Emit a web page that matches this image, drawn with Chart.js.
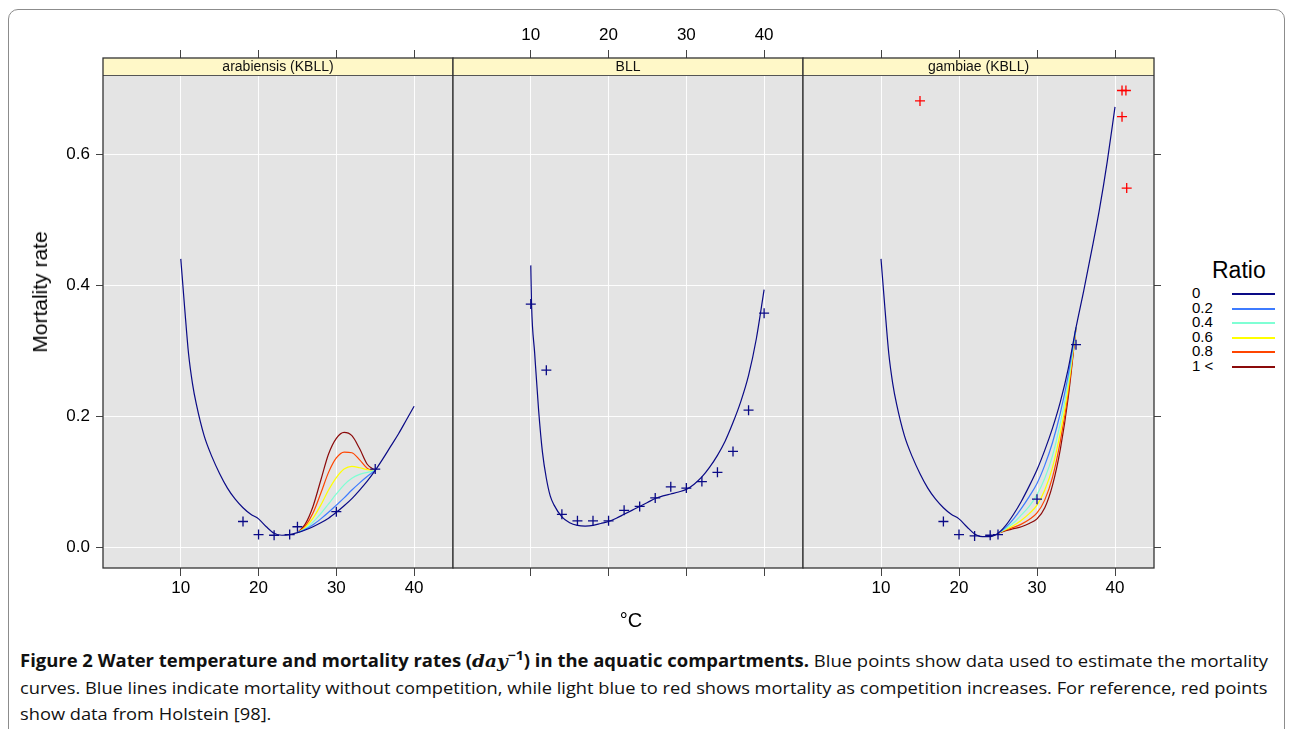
<!DOCTYPE html>
<html>
<head>
<meta charset="utf-8">
<script src="https://cdn.jsdelivr.net/npm/chart.js@4.4.1/dist/chart.umd.min.js"></script>
<style>
  body { margin: 0; width: 1293px; height: 729px; overflow: hidden; background: #fff; position: relative;
         font-family: "Liberation Sans", Arial, sans-serif; }
  .frame { position: absolute; left: 8px; top: 9px; width: 1277px; height: 780px; box-sizing: border-box;
           border: 1.5px solid #8c8c8c; border-radius: 10px; }
  canvas { position: absolute; top: 0; }
  #ylab { position: absolute; left: 40px; top: 292px; transform: translate(-50%, -50%) rotate(-90deg);
          font-size: 21px; white-space: nowrap; }
  #xlab { position: absolute; left: 631px; top: 620px; transform: translate(-50%, -50%); font-size: 20px; }
  #legend { position: absolute; left: 0; top: 0; }
  #legend .title { position: absolute; left: 1212px; top: 256px; font-size: 23px; line-height: 28px; }
  #legend .lab { position: absolute; left: 1192px; font-size: 15px; line-height: 16px; white-space: nowrap; }
  #legend .ln { position: absolute; left: 1232px; width: 43px; height: 1.5px; }
  .capline { position: absolute; left: 20px; font-family: "Open Sans", sans-serif; font-size: 17px; line-height: 20px;
             white-space: nowrap; transform-origin: 0 50%; color: #111; }
  .capline b { font-weight: 700; }
  .capline .m { font-family: "DejaVu Serif", serif; font-style: italic; font-weight: 700; }
  .capline sup { font-size: 13px; line-height: 0; }
</style>
</head>
<body>
<div class="frame"></div>
<canvas id="p1" width="461" height="620" style="left:0px"></canvas>
<canvas id="p2" width="366" height="620" style="left:445px"></canvas>
<canvas id="p3" width="379" height="620" style="left:795px"></canvas>
<div id="ylab">Mortality rate</div>
<div id="xlab">°C</div>
<div id="legend"></div>
<div class="capline" id="c1" style="top:651px"><b>Figure 2 Water temperature and mortality rates (<span class="m">day</span><sup>−1</sup>) in the aquatic compartments.</b> Blue points show data used to estimate the mortality</div>
<div class="capline" id="c2" style="top:678px">curves. Blue lines indicate mortality without competition, while light blue to red shows mortality as competition increases. For reference, red points</div>
<div class="capline" id="c3" style="top:704px">show data from Holstein [98].</div>
<script>
// achsen
const xTicks = [10, 20, 30, 40];
const yTicks = [0, 0.2, 0.4, 0.6];
const panelNames = ["arabiensis (KBLL)", "BLL", "gambiae (KBLL)"];
const ratioLabels = ["0", "0.2", "0.4", "0.6", "0.8", "1 <"];
const ratioColors = ["#0A0A86", "#3D7BFF", "#7FFFD4", "#FFFF00", "#FF4500", "#8B0A0A"];

// Kurven ohne Konkurrenz
const tempArab = [10, 10.5, 11, 11.5, 12, 13, 14, 15, 16, 17, 18, 19, 20, 21, 22, 23, 24, 25, 26, 27, 28, 29, 30, 31, 32, 33, 34, 35, 36, 37, 38, 39, 40];
const mortArab = [0.44, 0.365, 0.295, 0.25, 0.218, 0.17, 0.138, 0.112, 0.09, 0.073, 0.06, 0.05, 0.043, 0.031, 0.021, 0.018, 0.019, 0.022, 0.026, 0.031, 0.037, 0.044, 0.053, 0.063, 0.074, 0.087, 0.101, 0.117, 0.135, 0.154, 0.173, 0.194, 0.215];
const tempBLL = [10, 10.1, 10.5, 11, 11.5, 12, 12.5, 13, 14, 15, 16, 17, 18, 19, 20, 21, 22, 23, 24, 25, 26, 27, 28, 29, 30, 31, 32, 33, 34, 35, 36, 37, 38, 39, 40];
const mortBLL = [0.43, 0.37, 0.296, 0.21, 0.145, 0.105, 0.078, 0.064, 0.046, 0.037, 0.033, 0.032, 0.033, 0.036, 0.039, 0.044, 0.05, 0.056, 0.062, 0.068, 0.074, 0.078, 0.081, 0.084, 0.088, 0.096, 0.107, 0.122, 0.14, 0.162, 0.19, 0.222, 0.262, 0.318, 0.393];
const tempGamb = [10, 10.5, 11, 11.5, 12, 13, 14, 15, 16, 17, 18, 19, 20, 21, 22, 23, 24, 25, 26, 27, 28, 29, 30, 31, 32, 33, 34, 35, 36, 37, 38, 39, 40];
const mortGamb = [0.44, 0.365, 0.295, 0.25, 0.218, 0.17, 0.138, 0.112, 0.09, 0.073, 0.06, 0.05, 0.043, 0.031, 0.02, 0.016, 0.016, 0.021, 0.033, 0.05, 0.07, 0.093, 0.118, 0.148, 0.182, 0.222, 0.272, 0.335, 0.392, 0.452, 0.515, 0.588, 0.672];

// Kurven mit Konkurrenz (Ratio 0.2 .. 1<)
const tempComp = [25, 26, 27, 28, 29, 30, 31, 32, 33, 34, 35];
const arab02 = [0.022, 0.027, 0.034, 0.043, 0.053, 0.064, 0.075, 0.087, 0.098, 0.108, 0.117];
const arab04 = [0.022, 0.028, 0.038, 0.051, 0.066, 0.081, 0.095, 0.105, 0.111, 0.114, 0.117];
const arab06 = [0.022, 0.03, 0.044, 0.064, 0.087, 0.106, 0.119, 0.123, 0.121, 0.118, 0.117];
const arab08 = [0.022, 0.032, 0.052, 0.082, 0.114, 0.136, 0.145, 0.144, 0.133, 0.12, 0.117];
const arab10 = [0.022, 0.035, 0.062, 0.102, 0.142, 0.166, 0.175, 0.17, 0.15, 0.126, 0.117];
const gamb02 = [0.021, 0.03, 0.043, 0.059, 0.077, 0.097, 0.125, 0.16, 0.205, 0.262, 0.335];
const gamb04 = [0.021, 0.028, 0.037, 0.049, 0.062, 0.08, 0.105, 0.14, 0.19, 0.252, 0.335];
const gamb06 = [0.021, 0.027, 0.033, 0.041, 0.051, 0.064, 0.087, 0.122, 0.175, 0.243, 0.335];
const gamb08 = [0.021, 0.026, 0.03, 0.035, 0.042, 0.052, 0.072, 0.107, 0.162, 0.235, 0.335];
const gamb10 = [0.021, 0.025, 0.028, 0.031, 0.036, 0.043, 0.06, 0.095, 0.15, 0.228, 0.335];

// Messpunkte
const arabObsT = [18, 20, 22, 24, 25, 30, 35];
const arabObsM = [0.039, 0.019, 0.018, 0.019, 0.031, 0.054, 0.119];
const bllObsT = [10, 12, 14, 16, 18, 20, 22, 24, 26, 28, 30, 32, 34, 36, 38, 40];
const bllObsM = [0.371, 0.27, 0.05, 0.04, 0.04, 0.04, 0.056, 0.062, 0.075, 0.092, 0.09, 0.1, 0.114, 0.146, 0.209, 0.357];
const gambObsT = [18, 20, 22, 24, 25, 30, 35];
const gambObsM = [0.039, 0.019, 0.017, 0.018, 0.019, 0.073, 0.309];
const holsteinT = [15, 40.9, 41.4, 40.9, 41.5];
const holsteinM = [0.681, 0.697, 0.697, 0.657, 0.548];

Chart.defaults.font.family = "'Liberation Sans', Arial, sans-serif";
Chart.defaults.color = "#000";

const pts = (xs, ys) => xs.map((x, i) => ({ x: x, y: ys[i] }));

const curve = (xs, ys, color) => ({
  data: pts(xs, ys),
  showLine: true,
  borderColor: color,
  borderWidth: 1.2,
  pointRadius: 0,
  fill: false,
  cubicInterpolationMode: "monotone",
});

const crosses = (xs, ys, color) => ({
  data: pts(xs, ys),
  showLine: false,
  pointStyle: "cross",
  pointRadius: 5,
  borderColor: color,
  borderWidth: 1.3,
});

// Hintergrund, Streifen und Rahmen eines Panels
const panelDecor = {
  id: "panelDecor",
  beforeDraw(chart) {
    const { ctx, chartArea: a } = chart;
    ctx.save();
    ctx.fillStyle = "#E4E4E4";
    ctx.fillRect(a.left, a.top, a.right - a.left, a.bottom - a.top);
    ctx.restore();
  },
  afterDatasetsDraw(chart, args, opts) {
    const { ctx, chartArea: a } = chart;
    const h = 17;
    ctx.save();
    ctx.fillStyle = "#FFF8C8";
    ctx.fillRect(a.left, a.top, a.right - a.left, h);
    ctx.strokeStyle = "#555";
    ctx.lineWidth = 1;
    ctx.beginPath();
    ctx.moveTo(a.left, a.top + h + 0.5);
    ctx.lineTo(a.right, a.top + h + 0.5);
    ctx.stroke();
    ctx.strokeStyle = "#333";
    ctx.lineWidth = 1.3;
    ctx.strokeRect(a.left, a.top, a.right - a.left, a.bottom - a.top);
    ctx.fillStyle = "#111";
    ctx.font = "14px 'Liberation Sans', Arial, sans-serif";
    ctx.textAlign = "center";
    ctx.textBaseline = "middle";
    ctx.fillText(opts.label, (a.left + a.right) / 2, a.top + h / 2 + 1);
    ctx.restore();
  },
};

const yMin = -0.032;
const yMax = 0.7466;
const gridColor = "rgba(255,255,255,0.9)";
const tickColor = "#444";
const tickFont = { size: 17 };

function makePanel(id, label, datasets, opt) {
  const scales = {
    x: {
      type: "linear", position: "bottom", min: 0, max: 45,
      afterBuildTicks: (ax) => { ax.ticks = xTicks.map((v) => ({ value: v })); },
      afterFit: (ax) => { ax.height = 52; },
      ticks: { display: opt.bottomLabels, font: tickFont, padding: 2, maxRotation: 0, autoSkip: false },
      grid: { color: gridColor, tickColor: tickColor, tickLength: 8 },
      border: { display: false },
    },
    xTop: {
      type: "linear", position: "top", min: 0, max: 45,
      afterBuildTicks: (ax) => { ax.ticks = xTicks.map((v) => ({ value: v })); },
      afterFit: (ax) => { ax.height = 58; },
      ticks: { display: opt.topLabels, font: tickFont, padding: 4, maxRotation: 0, autoSkip: false },
      grid: { drawOnChartArea: false, tickColor: tickColor, tickLength: 8 },
      border: { display: false },
    },
    y: {
      type: "linear", position: "left", min: yMin, max: yMax,
      afterBuildTicks: (ax) => { ax.ticks = yTicks.map((v) => ({ value: v })); },
      afterFit: (ax) => { ax.width = opt.leftW; },
      ticks: { display: opt.leftLabels, font: tickFont, padding: 6, callback: (v) => v.toFixed(1) },
      grid: { color: gridColor, tickColor: tickColor, tickLength: 7, drawTicks: opt.leftLabels },
      border: { display: false },
    },
  };
  if (opt.rightTicks) {
    scales.yRight = {
      type: "linear", position: "right", min: yMin, max: yMax,
      afterBuildTicks: (ax) => { ax.ticks = yTicks.map((v) => ({ value: v })); },
      afterFit: (ax) => { ax.width = 20; },
      ticks: { display: false },
      grid: { drawOnChartArea: false, tickColor: tickColor, tickLength: 7 },
      border: { display: false },
    };
  }
  return new Chart(document.getElementById(id), {
    type: "scatter",
    data: { datasets: datasets },
    options: {
      responsive: false,
      animation: false,
      events: [],
      layout: { padding: { left: 0, right: opt.padRight, top: 0, bottom: 0 } },
      plugins: { legend: { display: false }, tooltip: { enabled: false }, panelDecor: { label: label } },
      scales: scales,
    },
    plugins: [panelDecor],
  });
}

makePanel("p1", panelNames[0], [
  crosses(arabObsT, arabObsM, ratioColors[0]),
  curve(tempArab, mortArab, ratioColors[0]),
  curve(tempComp, arab02, ratioColors[1]),
  curve(tempComp, arab04, ratioColors[2]),
  curve(tempComp, arab06, ratioColors[3]),
  curve(tempComp, arab08, ratioColors[4]),
  curve(tempComp, arab10, ratioColors[5]),
], { bottomLabels: true, topLabels: false, leftLabels: true, leftW: 103, padRight: 8, rightTicks: false });

makePanel("p2", panelNames[1], [
  crosses(bllObsT, bllObsM, ratioColors[0]),
  curve(tempBLL, mortBLL, ratioColors[0]),
], { bottomLabels: false, topLabels: true, leftLabels: false, leftW: 8, padRight: 8, rightTicks: false });

makePanel("p3", panelNames[2], [
  crosses(holsteinT, holsteinM, "#FF0000"),
  crosses(gambObsT, gambObsM, ratioColors[0]),
  curve(tempGamb, mortGamb, ratioColors[0]),
  curve(tempComp, gamb02, ratioColors[1]),
  curve(tempComp, gamb04, ratioColors[2]),
  curve(tempComp, gamb06, ratioColors[3]),
  curve(tempComp, gamb08, ratioColors[4]),
  curve(tempComp, gamb10, ratioColors[5]),
], { bottomLabels: true, topLabels: false, leftLabels: false, leftW: 8, padRight: 0, rightTicks: true });

// Legende
const legend = document.getElementById("legend");
let html = '<div class="title">Ratio</div>';
ratioLabels.forEach((lab, i) => {
  const cy = 293 + i * 14.5;
  html += '<div class="lab" style="top:' + (cy - 8) + 'px">' + lab + '</div>';
  html += '<div class="ln" style="top:' + Math.round(cy) + 'px;background:' + ratioColors[i] + '"></div>';
});
legend.innerHTML = html;

// Bildunterschrift auf Breite bringen
const c1 = document.getElementById("c1");
const c2 = document.getElementById("c2");
const c3 = document.getElementById("c3");
const s1 = 1248 / c1.scrollWidth;
const s2 = 1248 / c2.scrollWidth;
c1.style.transform = "scaleX(" + s1 + ")";
c2.style.transform = "scaleX(" + s2 + ")";
c3.style.transform = "scaleX(" + s2 + ")";
</script>
</body>
</html>
